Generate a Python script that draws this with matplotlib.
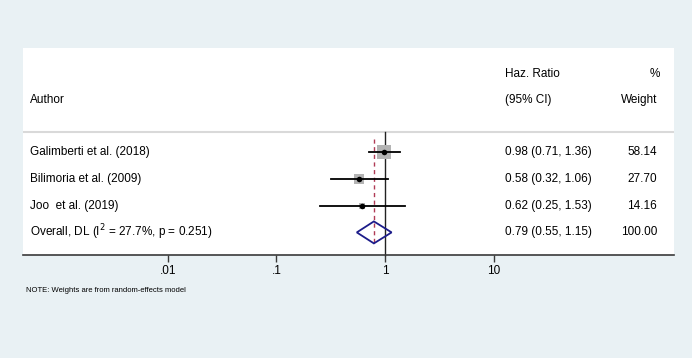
import matplotlib.pyplot as plt
import numpy as np

plt.rcParams['font.family'] = ['Liberation Sans', 'DejaVu Sans']

# study data
authors = ['Galimberti et al. (2018)', 'Bilimoria et al. (2009)', 'Joo  et al. (2019)']
hr = [0.98, 0.58, 0.62]
lo = [0.71, 0.32, 0.25]
hi = [1.36, 1.06, 1.53]
weights = [58.14, 27.70, 14.16]

overall_label = 'Overall, DL (I$^{2}$ = 27.7%, p = 0.251)'
overall = (0.79, 0.55, 1.15)
overall_weight = 100.00

xticks = [0.01, 0.1, 1, 10]
xticklabels = ['.01', '.1', '1', '10']

W, H = 692, 358
bg = '#e9f1f4'
fig = plt.figure(figsize=(W / 100, H / 100), dpi=100, facecolor=bg)

# white panel (pixel coords of the reference)
left, right, top, bottom = 22.5, 674, 47.5, 255
ax = fig.add_axes([left / W, 1 - bottom / H, (right - left) / W, (bottom - top) / H])
ax.set_facecolor('white')
ax.set_xscale('log')
# one decade is ~108.6 px, "1" sits at x=385
dec = 108.6
ax.set_xlim(10 ** ((left - 385) / dec), 10 ** ((right - 385) / dec))
ax.set_ylim(bottom, top)

for s in ['top', 'left', 'right']:
    ax.spines[s].set_visible(False)
ax.spines['bottom'].set_color('#3a3a3a')
ax.spines['bottom'].set_linewidth(1.2)
ax.set_yticks([])
ax.set_xticks(xticks)
ax.set_xticklabels(xticklabels, fontsize=8.5)
ax.minorticks_off()
ax.tick_params(axis='x', length=5, width=1, color='#3a3a3a', pad=2)

fs = 8.5
row_y = [152 + 26.8 * i for i in range(len(authors) + 1)]

# column positions in axes-fraction
x_txt = (30 - left) / (right - left)
x_ci = (505 - left) / (right - left)
x_w = (657 - left) / (right - left)
tr = ax.get_yaxis_transform()  # x in axes, y in data

# header
ax.text(x_ci, 74, 'Haz. Ratio', transform=tr, fontsize=fs, va='center', ha='left')
ax.text((660 - left) / (right - left), 74, '%', transform=tr, fontsize=fs, va='center', ha='right')
ax.text(x_txt, 100, 'Author', transform=tr, fontsize=fs, va='center', ha='left')
ax.text(x_ci, 100, '(95% CI)', transform=tr, fontsize=fs, va='center', ha='left')
ax.text(x_w, 100, 'Weight', transform=tr, fontsize=fs, va='center', ha='right')

# separator under header
ax.axhline(132, color='#d9d9d9', lw=1.5)

# no-effect line and overall dashed line
ax.plot([1, 1], [132, bottom], color='#222222', lw=1.0, clip_on=False)
ax.plot([overall[0]] * 2, [139, 246], color='#b03a55', lw=1.0, ls=(0, (3, 2.5)))

for i, (a, e, l, h, w) in enumerate(zip(authors, hr, lo, hi, weights)):
    y = row_y[i]
    side_px = 1.75 * np.sqrt(w)
    ax.scatter([e], [y], marker='s', s=(side_px * 0.72) ** 2, color='#b4b4b4', zorder=2, lw=0)
    ax.plot([l, h], [y, y], color='black', lw=1.3, zorder=3)
    ax.scatter([e], [y], marker='o', s=16, color='black', zorder=4, lw=0)
    ax.text(x_txt, y, a, transform=tr, fontsize=fs, va='center', ha='left')
    ax.text(x_ci, y, f'{e:.2f} ({l:.2f}, {h:.2f})', transform=tr, fontsize=fs, va='center', ha='left')
    ax.text(x_w, y, f'{w:.2f}', transform=tr, fontsize=fs, va='center', ha='right')

# overall diamond
yo = row_y[-1]
e, l, h = overall
ax.fill([l, e, h, e, l], [yo, yo - 11, yo, yo + 11, yo], facecolor='none',
        edgecolor='#1c1c8a', lw=1.3, zorder=3)
ax.text(x_txt, yo, overall_label, transform=tr, fontsize=fs, va='center', ha='left')
ax.text(x_ci, yo, f'{e:.2f} ({l:.2f}, {h:.2f})', transform=tr, fontsize=fs, va='center', ha='left')
ax.text(x_w, yo, f'{overall_weight:.2f}', transform=tr, fontsize=fs, va='center', ha='right')

fig.text(26 / W, 1 - 290 / H, 'NOTE: Weights are from random-effects model', fontsize=5.5,
         va='center', ha='left')

fig.savefig('out.png', dpi=100, facecolor=bg)
